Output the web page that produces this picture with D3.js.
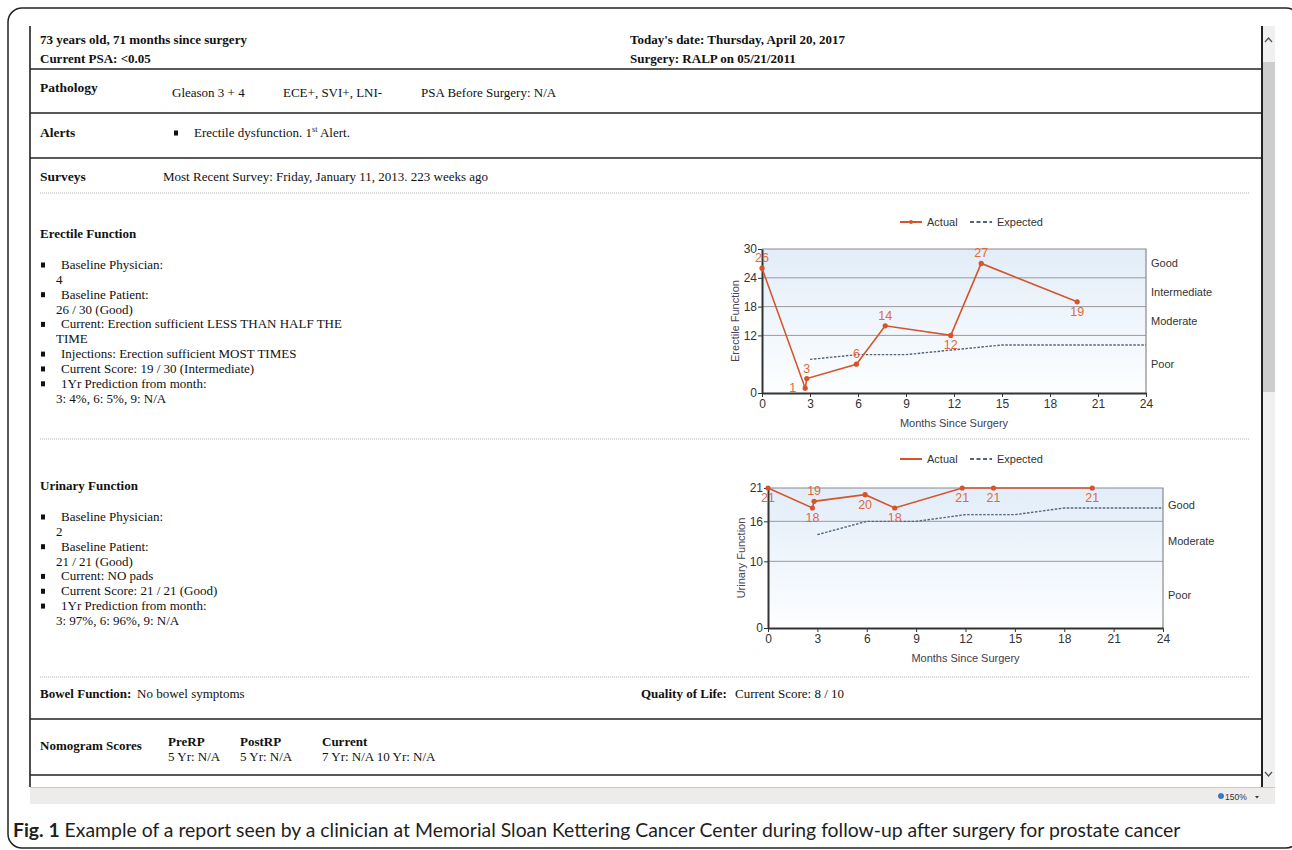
<!DOCTYPE html>
<html><head><meta charset="utf-8">
<script src="https://cdn.jsdelivr.net/npm/d3@7"></script>
<style>html,body{margin:0;padding:0;background:#fff;overflow:hidden}svg{display:block}</style>
</head><body>
<script>
// ---------- data ----------
const surveyMonths = [0, 2.7, 2.8, 5.9, 7.7, 11.8, 13.7, 19.7];
const erectileActual = [26, 1, 3, 6, 14, 12, 27, 19];
const urinaryActual = [21, 18, 19, 20, 18, 21, 21, 21];
const expectedMonths = [3, 6, 9, 12, 15, 18, 21, 24];
const erectileExpected = [7, 8, 8, 9, 10, 10, 10, 10];
const urinaryExpected = [14, 16, 16, 17, 17, 18, 18, 18];
const monthTicks = [0, 3, 6, 9, 12, 15, 18, 21, 24];
const erectileTicks = [0, 12, 18, 24, 30];
const urinaryTicks = [0, 10, 16, 21];
const erectileCategories = ["Poor", "Moderate", "Intermediate", "Good"];
const urinaryCategories = ["Poor", "Moderate", "Good"];
const legendLabels = ["Actual", "Expected"];

const headerLeft = ["73 years old, 71 months since surgery", "Current PSA: <0.05"];
const headerRight = ["Today's date: Thursday, April 20, 2017", "Surgery: RALP on 05/21/2011"];
const pathologyItems = ["Gleason 3 + 4", "ECE+, SVI+, LNI-", "PSA Before Surgery: N/A"];
const surveyText = "Most Recent Survey: Friday, January 11, 2013. 223 weeks ago";
const erectileItems = [["Baseline Physician:", "4"], ["Baseline Patient:", "26 / 30 (Good)"],
  ["Current: Erection sufficient LESS THAN HALF THE", "TIME"], ["Injections: Erection sufficient MOST TIMES"],
  ["Current Score: 19 / 30 (Intermediate)"], ["1Yr Prediction from month:", "3: 4%, 6: 5%, 9: N/A"]];
const urinaryItems = [["Baseline Physician:", "2"], ["Baseline Patient:", "21 / 21 (Good)"],
  ["Current: NO pads"], ["Current Score: 21 / 21 (Good)"], ["1Yr Prediction from month:", "3: 97%, 6: 96%, 9: N/A"]];
const nomogramCols = [["PreRP", "5 Yr: N/A"], ["PostRP", "5 Yr: N/A"], ["Current", "7 Yr: N/A 10 Yr: N/A"]];
const captionBold = "Fig. 1";
const captionText = " Example of a report seen by a clinician at Memorial Sloan Kettering Cancer Center during follow-up after surgery for prostate cancer";

// ---------- page ----------
const W = 1292, H = 850;
const svg = d3.select("body").append("svg").attr("width", W).attr("height", H);
const defs = svg.append("defs");
const grad = defs.append("linearGradient").attr("id", "plotGrad").attr("x1", 0).attr("y1", 0).attr("x2", 0).attr("y2", 1);
grad.append("stop").attr("offset", "0%").attr("stop-color", "#e2edf9");
grad.append("stop").attr("offset", "100%").attr("stop-color", "#fdfeff");

const SERIF = "'Liberation Serif','Times New Roman',serif";
const SANS = "'Liberation Sans',Arial,sans-serif";

// outer rounded frame
svg.append("rect").attr("x", 8).attr("y", 8).attr("width", 1292).attr("height", 840).attr("rx", 14)
  .attr("fill", "none").attr("stroke", "#222").attr("stroke-width", 1.5);

// scrollbar
svg.append("rect").attr("x", 1263).attr("y", 26).attr("width", 12).attr("height", 761).attr("fill", "#f0f0f0");
svg.append("rect").attr("x", 1263).attr("y", 62).attr("width", 12).attr("height", 330).attr("fill", "#cdcdcd");
svg.append("path").attr("d", "M1265,42 L1268.5,38 L1272,42").attr("fill", "none").attr("stroke", "#555").attr("stroke-width", 1.3);
svg.append("path").attr("d", "M1265,772 L1268.5,776 L1272,772").attr("fill", "none").attr("stroke", "#555").attr("stroke-width", 1.3);

// status bar
svg.append("rect").attr("x", 30).attr("y", 788).attr("width", 1245).attr("height", 16).attr("fill", "#eeeceb");
svg.append("line").attr("x1", 30).attr("x2", 1275).attr("y1", 787.5).attr("y2", 787.5).attr("stroke", "#c8c8c8");
svg.append("circle").attr("cx", 1221).attr("cy", 796).attr("r", 2.6).attr("fill", "#3a7bd5").attr("stroke", "#1f4f99").attr("stroke-width", 0.6);
svg.append("text").attr("x", 1225).attr("y", 799.5).attr("font-family", SANS).attr("font-size", 8.5).attr("fill", "#333").text("150%");
svg.append("path").attr("d", "M1255,796 L1259,796 L1257,798.5 Z").attr("fill", "#333");

// report frame lines
const frame = svg.append("g").attr("stroke", "#222");
frame.append("line").attr("x1", 30).attr("x2", 30).attr("y1", 26).attr("y2", 787).attr("stroke-width", 1.6);
frame.append("line").attr("x1", 1262).attr("x2", 1262).attr("y1", 26).attr("y2", 787).attr("stroke-width", 2);
[69, 113, 158, 719, 775].forEach(y => frame.append("line").attr("x1", 30).attr("x2", 1262).attr("y1", y).attr("y2", y).attr("stroke-width", 1.6));
[193, 439, 677].forEach(y => svg.append("line").attr("x1", 40).attr("x2", 1250).attr("y1", y).attr("y2", y)
  .attr("stroke", "#b4b4b4").attr("stroke-width", 1).attr("stroke-dasharray", "1,1"));

function txt(x, y, s, opt = {}) {
  return svg.append("text").attr("x", x).attr("y", y).attr("font-family", SERIF)
    .attr("font-size", opt.size || 13).attr("font-weight", opt.bold ? "bold" : "normal")
    .attr("fill", "#111").text(s);
}
function bullet(x, cy) {
  svg.append("rect").attr("x", x - 2).attr("y", cy - 2.5).attr("width", 4).attr("height", 5).attr("fill", "#111");
}

// header
headerLeft.forEach((s, i) => txt(40, 44 + i * 19, s, { bold: true }));
headerRight.forEach((s, i) => txt(630, 44 + i * 19, s, { bold: true }));
txt(40, 92, "Pathology", { bold: true, size: 13.5 });
[172, 283, 421].forEach((x, i) => txt(x, 97, pathologyItems[i]));
txt(40, 137, "Alerts", { bold: true, size: 13.5 });
bullet(176, 133);
const al = txt(194, 137, "Erectile dysfunction. 1");
al.append("tspan").attr("font-size", 8).attr("dy", -5).text("st");
al.append("tspan").attr("dy", 5).text(" Alert.");
txt(40, 181, "Surveys", { bold: true, size: 13.5 });
txt(163, 181, surveyText);

function list(title, titleY, items, firstY) {
  txt(40, titleY, title, { bold: true, size: 13 });
  let y = firstY;
  items.forEach(item => {
    bullet(43, y);
    item.forEach((s, j) => { txt(j === 0 ? 61 : 56, y + 4, s); y += 14.85; });
  });
}
list("Erectile Function", 238, erectileItems, 265);
list("Urinary Function", 490, urinaryItems, 517);

txt(40, 698, "Bowel Function:", { bold: true });
txt(137, 698, "No bowel symptoms");
txt(641, 698, "Quality of Life:", { bold: true });
txt(735, 698, "Current Score: 8 / 10");
txt(40, 750, "Nomogram Scores", { bold: true, size: 13 });
[168, 240, 322].forEach((x, i) => { txt(x, 746, nomogramCols[i][0], { bold: true }); txt(x, 761, nomogramCols[i][1]); });

// caption
const cap = svg.append("text").attr("x", 13).attr("y", 837).attr("font-family", "Lato,'Open Sans',sans-serif")
  .attr("font-size", 19).attr("fill", "#1e1e1e");
cap.append("tspan").attr("font-weight", "bold").text(captionBold);
cap.append("tspan").text(captionText);
const capLen = cap.node().getComputedTextLength();
cap.attr("font-size", 19 * 1168 / capLen);

// ---------- charts ----------
const ACT = "#d4552c", LBL = "#e0693d", EXP = "#56647a";

function chart(o) {
  const g = svg.append("g");
  const yMax = d3.max(o.ticks);
  const x = d3.scaleLinear().domain([0, 24]).range([o.x0, o.x1]);
  const y = d3.scaleLinear().domain([0, yMax]).range([o.y1, o.y0]);

  g.append("rect").attr("x", o.x0).attr("y", o.y0).attr("width", o.x1 - o.x0).attr("height", o.y1 - o.y0).attr("fill", "url(#plotGrad)");
  g.selectAll(".grid").data(o.ticks.filter(t => t > 0 && t < yMax)).join("line")
    .attr("x1", o.x0).attr("x2", o.x1).attr("y1", d => y(d)).attr("y2", d => y(d))
    .attr("stroke", "#9a9a9a").attr("stroke-width", 1);
  g.append("path").attr("d", `M${o.x0},${o.y0}H${o.x1}V${o.y1}`).attr("fill", "none").attr("stroke", "#8a8a8a").attr("stroke-width", 1.2);

  const ya = g.append("g").attr("transform", `translate(${o.x0},0)`)
    .call(d3.axisLeft(y).tickValues(o.ticks).tickSize(4).tickSizeOuter(0).tickPadding(1));
  const xa = g.append("g").attr("transform", `translate(0,${o.y1})`)
    .call(d3.axisBottom(x).tickValues(monthTicks).tickSize(4).tickSizeOuter(0).tickPadding(2));
  [ya, xa].forEach(a => {
    a.select(".domain").attr("stroke", "#333").attr("stroke-width", 2);
    a.selectAll(".tick line").attr("stroke", "#333");
    a.selectAll("text").attr("font-family", SANS).attr("font-size", 12).attr("fill", "#333");
  });

  // band labels
  o.cats.forEach((c, i) => {
    g.append("text").attr("x", o.x1 + 5).attr("y", y((o.ticks[i] + o.ticks[i + 1]) / 2) + 4)
      .attr("font-family", SANS).attr("font-size", 11).attr("fill", "#333").text(c);
  });

  // axis titles
  g.append("text").attr("transform", `translate(${o.x0 - 23},${(o.y0 + o.y1) / 2}) rotate(-90)`)
    .attr("text-anchor", "middle").attr("font-family", SANS).attr("font-size", 11).attr("fill", "#4a4258").text(o.title);
  g.append("text").attr("x", (o.x0 + o.x1) / 2).attr("y", o.y1 + 34).attr("text-anchor", "middle")
    .attr("font-family", SANS).attr("font-size", 11).attr("fill", "#3e3c4e").text("Months Since Surgery");

  // legend
  const ly = o.legendY;
  g.append("line").attr("x1", 900).attr("x2", 922).attr("y1", ly).attr("y2", ly).attr("stroke", ACT).attr("stroke-width", 2);
  if (o.legendMarker) g.append("circle").attr("cx", 911).attr("cy", ly).attr("r", 2).attr("fill", ACT);
  g.append("text").attr("x", 927).attr("y", ly + 4).attr("font-family", SANS).attr("font-size", 11).attr("fill", "#333").text(legendLabels[0]);
  g.append("line").attr("x1", 970).attr("x2", 992).attr("y1", ly).attr("y2", ly).attr("stroke", EXP).attr("stroke-width", 2).attr("stroke-dasharray", "4,2.5");
  g.append("text").attr("x", 997).attr("y", ly + 4).attr("font-family", SANS).attr("font-size", 11).attr("fill", "#333").text(legendLabels[1]);

  // expected
  const exp = expectedMonths.map((m, i) => [m, o.expected[i]]);
  g.append("path").datum(exp).attr("d", d3.line().x(d => x(d[0])).y(d => y(d[1])))
    .attr("fill", "none").attr("stroke", EXP).attr("stroke-width", 1.4).attr("stroke-dasharray", "2.5,1.5");

  // actual
  const act = surveyMonths.map((m, i) => [m, o.actual[i]]);
  g.append("path").datum(act).attr("d", d3.line().x(d => x(d[0])).y(d => y(d[1])))
    .attr("fill", "none").attr("stroke", ACT).attr("stroke-width", 1.6);
  g.selectAll(".pt").data(act).join("circle").attr("cx", d => x(d[0])).attr("cy", d => y(d[1])).attr("r", 2.6).attr("fill", ACT);

  act.forEach((d, i) => {
    const px = x(d[0]), py = y(d[1]);
    const prev = i > 0 ? act[i - 1][1] : Infinity, next = i < act.length - 1 ? act[i + 1][1] : Infinity;
    let side = "above";
    if (d[1] < prev && d[1] <= next) side = "below";
    if (side === "above" && py - 12 < o.y0) side = "below";
    if (side === "below" && py + 14 > o.y1) side = "left";
    const t = g.append("text").attr("font-family", SANS).attr("font-size", 12.5).attr("fill", LBL).text(d[1]);
    if (side === "above") t.attr("x", px).attr("y", py - 6).attr("text-anchor", "middle");
    else if (side === "below") t.attr("x", px).attr("y", py + 14).attr("text-anchor", "middle");
    else t.attr("x", px - 9).attr("y", py + 4).attr("text-anchor", "end");
  });
}

chart({ x0: 762, x1: 1146, y0: 249, y1: 393, legendY: 222, legendMarker: true, ticks: erectileTicks,
  cats: erectileCategories, actual: erectileActual, expected: erectileExpected, title: "Erectile Function" });
chart({ x0: 768, x1: 1163, y0: 488, y1: 628, legendY: 459, legendMarker: false, ticks: urinaryTicks,
  cats: urinaryCategories, actual: urinaryActual, expected: urinaryExpected, title: "Urinary Function" });
</script>
</body></html>
